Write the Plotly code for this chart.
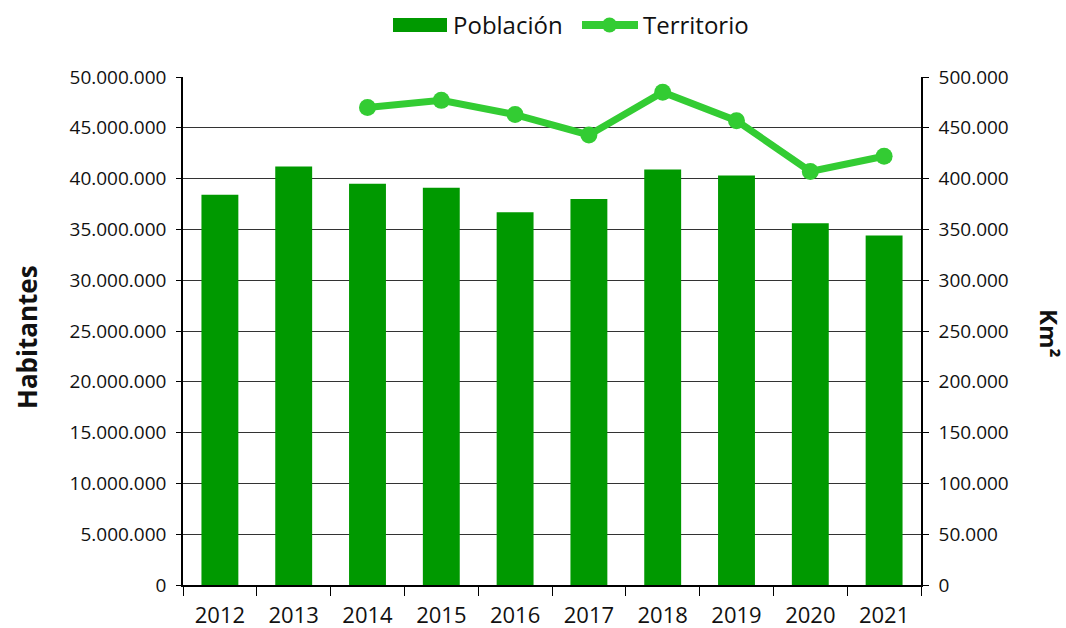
import plotly.graph_objects as go

years = ["2012", "2013", "2014", "2015", "2016", "2017", "2018", "2019", "2020", "2021"]
poblacion = [38.4e6, 41.2e6, 39.5e6, 39.1e6, 36.7e6, 38.0e6, 40.9e6, 40.3e6, 35.6e6, 34.4e6]
territorio = [None, None, 470000, 477000, 463000, 443000, 485000, 457000, 407000, 422000]
left_ticks = [i * 5e6 for i in range(11)]
right_ticks = [i * 50000 for i in range(11)]

BAR = "#009900"
LINE = "#33CC33"
FONT = "Open Sans"

L, R, T, B = 183, 921, 77, 585
W, H = 1066, 628

def px(x):
    return (x - L) / (R - L)

def py(y):
    return (B - y) / (B - T)

fig = go.Figure()
fig.add_trace(go.Bar(x=years, y=poblacion, marker=dict(color=BAR, line=dict(width=0)),
                     name="Población", yaxis="y", showlegend=False))
fig.add_trace(go.Scatter(x=years, y=territorio, mode="lines+markers", name="Territorio",
                         line=dict(color=LINE, width=7), marker=dict(color=LINE, size=17),
                         yaxis="y2", showlegend=False, cliponaxis=False))

fig.update_layout(
    width=W, height=H,
    margin=dict(l=L, r=W - R, t=T, b=H - B, pad=0, autoexpand=False),
    plot_bgcolor="white", paper_bgcolor="white",
    separators=",.",
    bargap=0.5,
    font=dict(family=FONT, color="#111111", size=19),
    xaxis=dict(range=[-0.5, 9.5], showline=True, linecolor="black", linewidth=1.5,
               ticks="outside", ticklen=9, tickcolor="black", tickson="boundaries",
               tickfont=dict(size=22), showgrid=False, mirror=False, ticklabelstandoff=10,
               automargin=False),
    yaxis=dict(range=[0, 50e6], tickvals=left_ticks, tickformat=",d", showline=True,
               linecolor="black", linewidth=1.5, ticks="outside", ticklen=5, tickcolor="black",
               gridcolor="#333333", gridwidth=1, tickfont=dict(size=19), zeroline=False,
               ticklabelstandoff=6, automargin=False),
    yaxis2=dict(range=[0, 500000], tickvals=right_ticks, tickformat=",d", overlaying="y",
                side="right", showline=True, linecolor="black", linewidth=1.5, ticks="outside",
                ticklen=6, tickcolor="black", showgrid=False, tickfont=dict(size=19),
                zeroline=False, ticklabelstandoff=6, automargin=False),
    showlegend=False,
)

shapes = [
    dict(type="rect", xref="paper", yref="paper", x0=px(393), x1=px(447), y0=py(32), y1=py(18),
         fillcolor=BAR, line=dict(width=0)),
    dict(type="line", xref="paper", yref="paper", x0=px(582), x1=px(638), y0=py(25), y1=py(25),
         line=dict(color=LINE, width=8)),
    dict(type="circle", xref="paper", yref="paper", x0=px(602), x1=px(617), y0=py(32.5), y1=py(17.5),
         fillcolor=LINE, line=dict(width=0)),
]
fig.update_layout(shapes=shapes)

annotations = [
    dict(text="Población", x=px(451), y=py(25), xref="paper", yref="paper", xanchor="left",
         yanchor="middle", showarrow=False, font=dict(size=24)),
    dict(text="Territorio", x=px(641), y=py(25), xref="paper", yref="paper", xanchor="left",
         yanchor="middle", showarrow=False, font=dict(size=24)),
    dict(text="<b>Habitantes</b>", x=px(27), y=py(337), xref="paper", yref="paper",
         textangle=-90, showarrow=False, font=dict(size=26), xanchor="center", yanchor="middle"),
    dict(text="<b>Km²</b>", x=px(1050), y=py(333), xref="paper", yref="paper",
         textangle=90, showarrow=False, font=dict(size=24), xanchor="center", yanchor="middle"),
]
fig.update_layout(annotations=annotations)

fig.write_html("out.html", config=dict(displayModeBar=False),
               post_script="document.body.style.margin='0';")
